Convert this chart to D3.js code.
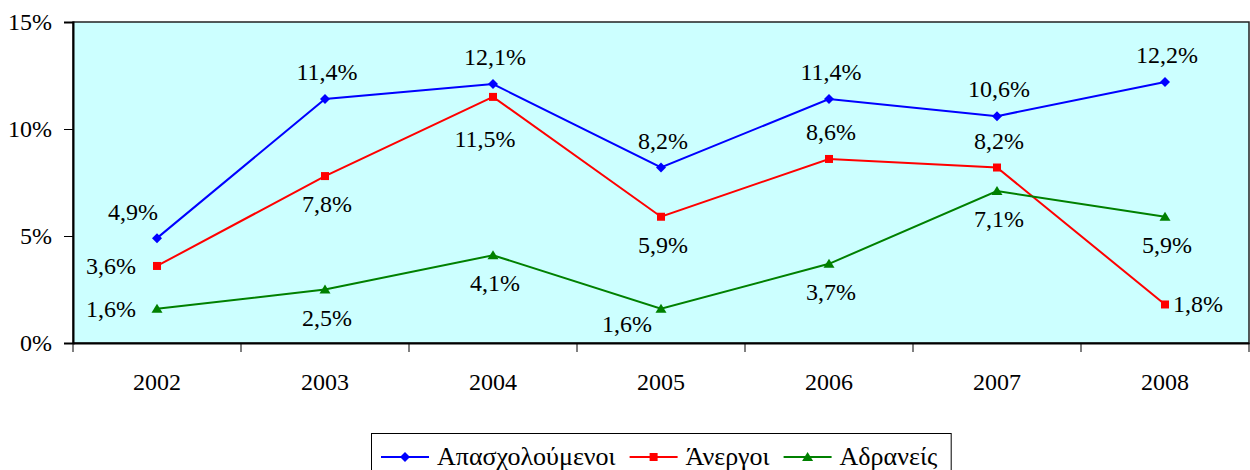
<!DOCTYPE html>
<html>
<head>
<meta charset="utf-8">
<script src="https://cdn.jsdelivr.net/npm/d3@7"></script>
<style>
  body { margin: 0; background: #fff; }
</style>
</head>
<body>
<div id="chart"></div>
<script>
// data
var years = ["2002", "2003", "2004", "2005", "2006", "2007", "2008"];
var employed = [4.9, 11.4, 12.1, 8.2, 11.4, 10.6, 12.2];
var unemployed = [3.6, 7.8, 11.5, 5.9, 8.6, 8.2, 1.8];
var inactive = [1.6, 2.5, 4.1, 1.6, 3.7, 7.1, 5.9];
var yTicks = [0, 5, 10, 15];
var seriesNames = ["Απασχολούμενοι", "Άνεργοι", "Αδρανείς"];

// where each value label sits relative to its point
var employedLabelPos = ["aboveleft", "above", "above", "above", "above", "above", "above"];
var unemployedLabelPos = ["left", "below", "farbelow", "below", "above", "above", "right"];
var inactiveLabelPos = ["left", "below", "below", "belowleft", "below", "below", "below"];

var FONT = "'Liberation Serif', Tinos, 'Times New Roman', Times, 'Nimbus Roman', 'Noto Serif', 'DejaVu Serif', serif";
var width = 1250, height = 470;
var plot = { left: 73, right: 1249, top: 22, bottom: 343 };

var svg = d3.select("#chart").append("svg")
    .attr("width", width)
    .attr("height", height)
    .style("font-family", FONT);

var x = d3.scaleBand().domain(years).range([plot.left, plot.right]).paddingInner(0).paddingOuter(0);
var y = d3.scaleLinear().domain([0, 15]).range([plot.bottom, plot.top]);
function cx(i) { return x(years[i]) + x.bandwidth() / 2; }

// plot background
svg.append("rect")
    .attr("x", plot.left).attr("y", plot.top)
    .attr("width", plot.right - plot.left).attr("height", plot.bottom - plot.top)
    .attr("fill", "#CCFFFF")
    .attr("stroke", "#222").attr("stroke-width", 1.5);

// y axis
var yAxis = svg.append("g")
    .attr("transform", "translate(" + plot.left + ",0)")
    .call(d3.axisLeft(y).tickValues(yTicks).tickSize(9).tickPadding(12)
        .tickFormat(function(d) { return d + "%"; }));
yAxis.attr("font-family", null);
yAxis.select(".domain").attr("stroke", "#000").attr("stroke-width", 2);
yAxis.selectAll(".tick line").attr("stroke", "#000").attr("stroke-width", 1);
yAxis.selectAll(".tick text")
    .attr("font-size", 24).style("font-family", FONT).attr("fill", "#000").attr("dy", "0.32em");

// x axis (labels centred in band, ticks on band edges)
var xAxis = svg.append("g")
    .attr("transform", "translate(0," + plot.bottom + ")")
    .call(d3.axisBottom(x).tickSize(0).tickPadding(30));
xAxis.attr("font-family", null);
xAxis.select(".domain").attr("stroke", "#000").attr("stroke-width", 2);
xAxis.selectAll(".tick text")
    .attr("font-size", 24).style("font-family", FONT).attr("fill", "#000");

var edges = years.map(function(d) { return x(d); }).concat([plot.right]);
svg.append("g").selectAll("line")
    .data(edges)
    .enter().append("line")
    .attr("x1", function(d) { return d; }).attr("x2", function(d) { return d; })
    .attr("y1", plot.bottom).attr("y2", plot.bottom + 9)
    .attr("stroke", "#000").attr("stroke-width", 1);

// marker shapes
function marker(g, shape, color) {
  if (shape === "diamond") {
    g.append("path").attr("d", "M0,-5L5,0L0,5L-5,0Z").attr("fill", color);
  } else if (shape === "square") {
    g.append("rect").attr("x", -4).attr("y", -4).attr("width", 8).attr("height", 8).attr("fill", color);
  } else {
    g.append("path").attr("d", "M0,-5L5.5,4L-5.5,4Z").attr("fill", color);
  }
}

var offsets = {
  above:     { dx: 2,   dy: -19, anchor: "middle" },
  below:     { dx: 2,   dy: 36,  anchor: "middle" },
  farbelow:  { dx: -8,  dy: 50,  anchor: "middle" },
  aboveleft: { dx: -24, dy: -18, anchor: "middle" },
  belowleft: { dx: -34, dy: 23,  anchor: "middle" },
  left:      { dx: -21, dy: 8,   anchor: "end" },
  right:     { dx: 8,   dy: 8,   anchor: "start" }
};

var series = [
  { name: seriesNames[0], values: employed, pos: employedLabelPos, color: "#0000FF", shape: "diamond" },
  { name: seriesNames[1], values: unemployed, pos: unemployedLabelPos, color: "#FF0000", shape: "square" },
  { name: seriesNames[2], values: inactive, pos: inactiveLabelPos, color: "#008000", shape: "triangle" }
];

var line = d3.line()
    .x(function(d, i) { return cx(i); })
    .y(function(d) { return y(d); });

series.forEach(function(s) {
  svg.append("path")
      .datum(s.values)
      .attr("d", line)
      .attr("fill", "none")
      .attr("stroke", s.color)
      .attr("stroke-width", 2);

  s.values.forEach(function(v, i) {
    var g = svg.append("g").attr("transform", "translate(" + cx(i) + "," + y(v) + ")");
    marker(g, s.shape, s.color);
  });
});

// value labels on top
series.forEach(function(s) {
  svg.append("g").selectAll("text")
      .data(s.values)
      .enter().append("text")
      .attr("x", function(d, i) { return cx(i) + offsets[s.pos[i]].dx; })
      .attr("y", function(d, i) { return y(d) + offsets[s.pos[i]].dy; })
      .attr("text-anchor", function(d, i) { return offsets[s.pos[i]].anchor; })
      .attr("font-size", 24)
      .style("font-family", FONT)
      .text(function(d) { return d.toFixed(1).replace(".", ",") + "%"; });
});

// legend
var legend = svg.append("g");
var legendBox = legend.append("rect")
    .attr("x", 371.5).attr("y", 433.5)
    .attr("height", 50)
    .attr("fill", "#fff").attr("stroke", "#000").attr("stroke-width", 1);

var lx = 381, ly = 457;
series.forEach(function(s) {
  legend.append("line")
      .attr("x1", lx).attr("x2", lx + 48)
      .attr("y1", ly).attr("y2", ly)
      .attr("stroke", s.color).attr("stroke-width", 2);
  var mg = legend.append("g").attr("transform", "translate(" + (lx + 24) + "," + ly + ")");
  marker(mg, s.shape, s.color);
  var t = legend.append("text")
      .attr("x", lx + 56).attr("y", 465)
      .attr("font-size", 26)
      .style("font-family", FONT)
      .text(s.name);
  lx = lx + 56 + t.node().getComputedTextLength() + 14;
});
legendBox.attr("width", lx - 371.5);
</script>
</body>
</html>
